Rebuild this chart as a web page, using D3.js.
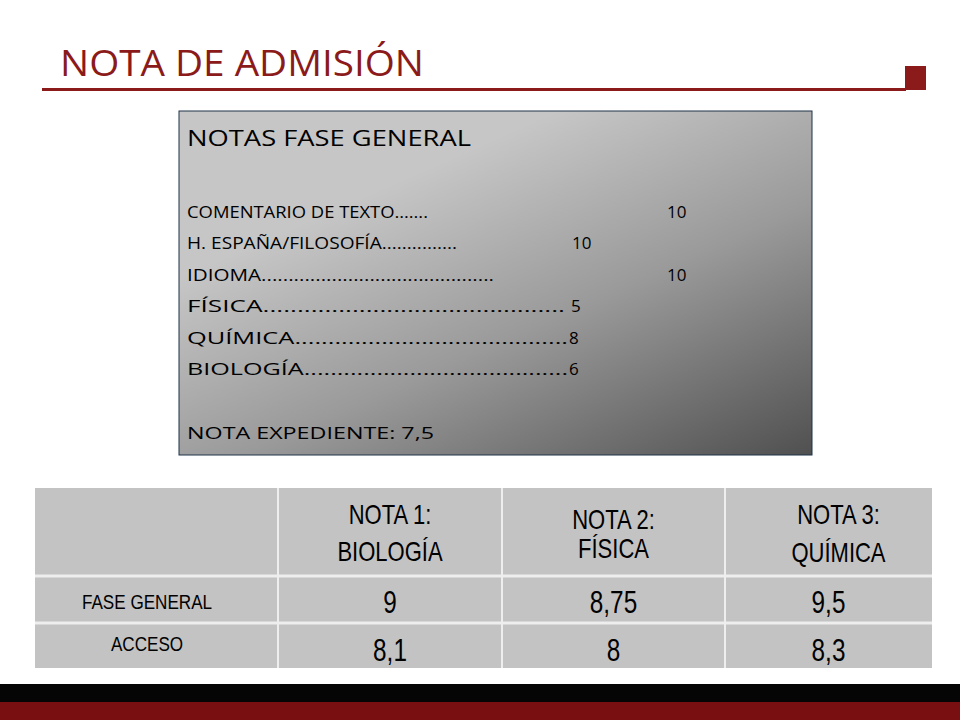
<!DOCTYPE html>
<html><head><meta charset="utf-8">
<script src="https://cdn.jsdelivr.net/npm/d3@7"></script>
<style>body{margin:0;background:#fff}</style>
</head><body>
<svg id="c" width="960" height="720"></svg>
<script>
var listLabels = ['COMENTARIO DE TEXTO…….', 'H. ESPAÑA/FILOSOFÍA...............', 'IDIOMA...........................................', 'FÍSICA............................................', 'QUÍMICA.........................................', 'BIOLOGÍA........................................'];
var listLabelW = [241, 270, 307, 378, 381, 381];
var listValues = ['10', '10', '10', '5', '8', '6'];
var listValueX = [667, 572, 667, 571, 569, 569];
var headers = ['', 'NOTA 1:|BIOLOGÍA', 'NOTA 2:|FÍSICA', 'NOTA 3:|QUÍMICA'];
var rowLabels = ['FASE GENERAL', 'ACCESO'];
var faseGeneral = ['9', '8,75', '9,5'];
var acceso = ['8,1', '8', '8,3'];

var svg = d3.select('#c');
var red = '#8b1a1a';
var defs = svg.append('defs');
var g = defs.append('linearGradient').attr('id', 'gr').attr('x1', '35%').attr('y1', '20%').attr('x2', '100%').attr('y2', '100%');
g.append('stop').attr('offset', '0').attr('stop-color', '#c6c6c6');
g.append('stop').attr('offset', '0.45').attr('stop-color', '#9a9a9a');
g.append('stop').attr('offset', '1').attr('stop-color', '#505050');

// title
svg.append('text').attr('x', 60).attr('y', 76).text('NOTA DE ADMISIÓN')
    .attr('font-family', 'Open Sans').attr('font-size', 36).attr('fill', red)
    .attr('textLength', 364).attr('lengthAdjust', 'spacingAndGlyphs');
svg.append('rect').attr('x', 42).attr('y', 88).attr('width', 864).attr('height', 3).attr('fill', red);
svg.append('rect').attr('x', 905).attr('y', 66).attr('width', 21).attr('height', 24).attr('fill', red);

// box
svg.append('rect').attr('x', 179).attr('y', 111).attr('width', 633).attr('height', 344)
    .attr('fill', 'url(#gr)').attr('stroke', '#1f3347').attr('stroke-width', 1);
svg.append('text').attr('x', 187).attr('y', 146).text('NOTAS FASE GENERAL')
    .attr('font-family', 'Open Sans').attr('font-size', 22).attr('fill', '#000')
    .attr('textLength', 284).attr('lengthAdjust', 'spacingAndGlyphs');
var y = d3.scaleLinear().domain([0, 5]).range([218, 375]);
var li = svg.append('g').attr('font-family', 'Open Sans').attr('font-size', 17).attr('fill', '#000');
li.selectAll('.lab').data(listLabels).enter().append('text')
    .attr('x', 187).attr('y', (d, i) => y(i)).text(d => d)
    .attr('textLength', (d, i) => listLabelW[i]).attr('lengthAdjust', 'spacingAndGlyphs');
li.selectAll('.val').data(listValues).enter().append('text')
    .attr('x', (d, i) => listValueX[i]).attr('y', (d, i) => y(i)).text(d => d);
li.append('text').attr('x', 187).attr('y', 439).text('NOTA EXPEDIENTE: 7,5')
    .attr('textLength', 247).attr('lengthAdjust', 'spacingAndGlyphs');

// table
var colX = [35, 278, 502, 725, 932];
var rowY = [488, 576, 623, 668];
var t = svg.append('g').attr('font-family', 'Liberation Sans').attr('fill', '#000');
t.append('rect').attr('x', 35).attr('y', 488).attr('width', 897).attr('height', 180).attr('fill', '#c3c3c3');
colX.slice(1, 4).forEach(x => t.append('rect').attr('x', x - 1).attr('y', 488).attr('width', 2).attr('height', 180).attr('fill', '#eee'));
rowY.slice(1, 3).forEach(yy => t.append('rect').attr('x', 35).attr('y', yy - 1.5).attr('width', 897).attr('height', 3).attr('fill', '#eee'));
var mid = i => (colX[i] + colX[i + 1]) / 2;
var hdrY = [[524, 561], [529, 558], [524, 562]];
headers.forEach((h, i) => {
    if (!h) return;
    h.split('|').forEach((s, k) => {
        var cx = mid(i) + (i == 3 ? 10 : 0);
        t.append('text').attr('transform', `translate(${cx},${hdrY[i - 1][k]}) scale(0.88,1.1)`)
            .attr('text-anchor', 'middle').attr('font-size', 25).text(s);
    });
});
rowLabels.forEach((s, r) => t.append('text').attr('transform', `translate(147,${r ? 651 : 609}) scale(0.9,1.1)`)
    .attr('text-anchor', 'middle').attr('font-size', 19).text(s));
[faseGeneral, acceso].forEach((row, r) => row.forEach((v, i) =>
    t.append('text').attr('transform', `translate(${mid(i + 1)},${r ? 661 : 613}) scale(0.9,1.15)`)
        .attr('text-anchor', 'middle').attr('font-size', 27).text(v)));

// footer
svg.append('rect').attr('x', 0).attr('y', 684).attr('width', 960).attr('height', 18).attr('fill', '#050505');
svg.append('rect').attr('x', 0).attr('y', 702).attr('width', 960).attr('height', 18).attr('fill', '#7a0f12');
</script>
</body></html>
